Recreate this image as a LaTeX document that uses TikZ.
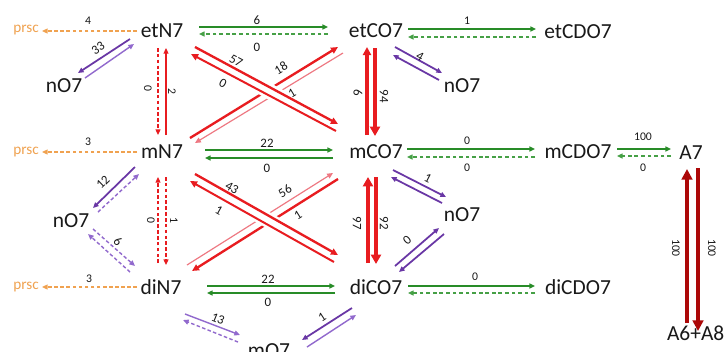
\documentclass[tikz,border=0pt]{standalone}
\usepackage{fontspec}
\setmainfont{Carlito}
\usetikzlibrary{arrows.meta}
\definecolor{txt}{RGB}{25,25,25}
\definecolor{cor}{RGB}{240,162,80}
\definecolor{cgr}{RGB}{40,140,40}
\definecolor{cgl}{RGB}{70,160,70}
\definecolor{cred}{RGB}{232,28,32}
\definecolor{cpk}{RGB}{238,120,130}
\definecolor{cpd}{RGB}{105,55,165}
\definecolor{cpl}{RGB}{145,105,205}
\definecolor{cdr}{RGB}{172,8,8}
\begin{document}
\begin{tikzpicture}[x=0.03cm,y=-0.03cm,
  nm/.style={text=txt,inner sep=0pt,font=\fontsize{18.3}{20}\selectfont},
  pr/.style={text=cor,inner sep=0pt,font=\fontsize{13}{14}\selectfont},
  lb/.style={text=txt,inner sep=0pt,font=\fontsize{11}{12}\selectfont},
  lbs/.style={text=txt,inner sep=0pt,font=\fontsize{10}{11}\selectfont},
  tipS/.style={-{Triangle[length=4.8pt,width=4.2pt]}},
  orA/.style={draw=cor,line width=1.1pt,dash pattern=on 3pt off 2.2pt,tipS},
  gS/.style={draw=cgr,line width=1.2pt,tipS},
  gSb/.style={draw=cgr,line width=1.5pt,tipS},
  gD/.style={draw=cgl,line width=1.2pt,dash pattern=on 3.2pt off 2.4pt,tipS},
  rD/.style={draw=cred,line width=1.1pt,dash pattern=on 3pt off 2pt,tipS},
  rT/.style={draw=cred,line width=1pt,tipS},
  rA/.style={draw=cred,line width=2pt,-{Triangle[length=6pt,width=5.5pt]}},
  pk/.style={draw=cpk,line width=1pt,-{Triangle[length=5pt,width=4.5pt]}},
  rB/.style={draw=cred,line width=2.6pt,-{Triangle[length=7pt,width=7pt]}},
  rBB/.style={draw=cred,line width=3.6pt,-{Triangle[length=8pt,width=8.5pt]}},
  drB/.style={draw=cdr,line width=3.8pt,-{Triangle[length=9pt,width=9pt]}},
  pS/.style={draw=cpd,line width=1.5pt,tipS},
  pL/.style={draw=cpl,line width=1.2pt,tipS},
  pD/.style={draw=cpl,line width=1.2pt,dash pattern=on 3pt off 2pt,tipS},
  gap/.style={draw=white,line width=13pt}
]
\useasboundingbox (0,0) rectangle (725,351);
\clip (0,0) rectangle (725,351);
\fill[white] (0,0) rectangle (725,351);

% ---------- nodes ----------
\node[pr] (prsc1) at (26,30) {prsc};
\node[pr] (prsc2) at (26,152) {prsc};
\node[pr] (prsc3) at (26,287) {prsc};
\node[nm] (etN7) at (162,31) {etN7};
\node[nm] (etCO7) at (376,31) {etCO7};
\node[nm] (etCDO7) at (578,32) {etCDO7};
\node[nm] (nO7a) at (64,86) {nO7};
\node[nm] (nO7b) at (462,86) {nO7};
\node[nm] (mN7) at (162,152) {mN7};
\node[nm] (mCO7) at (376,152) {mCO7};
\node[nm] (mCDO7) at (578,152) {mCDO7};
\node[nm] (A7) at (691,153) {A7};
\node[nm] (nO7c) at (71,221) {nO7};
\node[nm] (nO7d) at (462,215) {nO7};
\node[nm] (diN7) at (161,287) {diN7};
\node[nm] (diCO7) at (376,287) {diCO7};
\node[nm] (diCDO7) at (578,287) {diCDO7};
\node[nm,anchor=base east] (A6A8) at (724.5,340) {A6+A8};
\node[nm,anchor=base] (mO7) at (269,357) {mO7};

% ---------- coordinates ----------
\coordinate (o1s) at (137,31); \coordinate (o1e) at (42,31);
\coordinate (o2s) at (137,152); \coordinate (o2e) at (42,152);
\coordinate (o3s) at (137,287); \coordinate (o3e) at (42,287);
% green
\coordinate (g1s) at (199,27); \coordinate (g1e) at (328,27);
\coordinate (g2s) at (328,34); \coordinate (g2e) at (199,34);
\coordinate (g3s) at (408,29); \coordinate (g3e) at (536,29);
\coordinate (g4s) at (536,37); \coordinate (g4e) at (408,37);
\coordinate (g5s) at (205,150); \coordinate (g5e) at (333,150);
\coordinate (g6s) at (333,158); \coordinate (g6e) at (205,158);
\coordinate (g7s) at (407,149); \coordinate (g7e) at (535,149);
\coordinate (g8s) at (535,157); \coordinate (g8e) at (407,157);
\coordinate (g9s) at (617,149); \coordinate (g9e) at (671,149);
\coordinate (g10s) at (671,156); \coordinate (g10e) at (617,156);
\coordinate (g11s) at (207,286); \coordinate (g11e) at (335,286);
\coordinate (g12s) at (335,293); \coordinate (g12e) at (207,293);
\coordinate (g13s) at (408,286); \coordinate (g13e) at (535,286);
\coordinate (g14s) at (535,293); \coordinate (g14e) at (408,293);
% red verticals
\coordinate (r1s) at (158,48); \coordinate (r1e) at (158,135);
\coordinate (r2s) at (166,135); \coordinate (r2e) at (166,48);
\coordinate (r3s) at (158,263); \coordinate (r3e) at (158,177);
\coordinate (r4s) at (166,177); \coordinate (r4e) at (166,265);
\coordinate (r5s) at (367,135); \coordinate (r5e) at (367,47);
\coordinate (r6s) at (375,48); \coordinate (r6e) at (375,136);
\coordinate (r7s) at (368,263); \coordinate (r7e) at (368,177);
\coordinate (r8s) at (376,177); \coordinate (r8e) at (376,264);
\coordinate (r9s) at (687,323); \coordinate (r9e) at (687,169);
\coordinate (r10s) at (698,168); \coordinate (r10e) at (698,331);
% red diagonals
\coordinate (a1s) at (195,47); \coordinate (a1e) at (338,124);
\coordinate (a2s) at (336,131); \coordinate (a2e) at (191,54);
\coordinate (ag1) at (245,78.2); \coordinate (ag2) at (293,103.9);
\coordinate (b1s) at (190,138); \coordinate (b1e) at (338,47);
\coordinate (b2s) at (343,53); \coordinate (b2e) at (195,143);
\coordinate (c1s) at (195,174); \coordinate (c1e) at (338,255);
\coordinate (c2s) at (334,262); \coordinate (c2e) at (190,181);
\coordinate (cg1) at (245,207.1); \coordinate (cg2) at (290,232.5);
\coordinate (d1s) at (187,265); \coordinate (d1e) at (333,173);
\coordinate (d2s) at (338,179); \coordinate (d2e) at (192,271);
% purple
\coordinate (p1s) at (130,39); \coordinate (p1e) at (78,73);
\coordinate (p2s) at (85,78); \coordinate (p2e) at (134,44);
\coordinate (p3s) at (395,47); \coordinate (p3e) at (442,73);
\coordinate (p4s) at (439,80); \coordinate (p4e) at (393,55);
\coordinate (p5s) at (135,167); \coordinate (p5e) at (93,208);
\coordinate (p6s) at (98,212); \coordinate (p6e) at (139,174);
\coordinate (p7s) at (93,229); \coordinate (p7e) at (135,266);
\coordinate (p8s) at (130,272); \coordinate (p8e) at (88,234);
\coordinate (p9s) at (185,314); \coordinate (p9e) at (240,335);
\coordinate (p10s) at (238,342); \coordinate (p10e) at (183,320);
\coordinate (p11s) at (352,308); \coordinate (p11e) at (302,340);
\coordinate (p12s) at (307,347); \coordinate (p12e) at (356,315);
\coordinate (p13s) at (393,170); \coordinate (p13e) at (446,197);
\coordinate (p14s) at (442,203); \coordinate (p14e) at (391,177);
\coordinate (p15s) at (395,266); \coordinate (p15e) at (439,228);
\coordinate (p16s) at (444,234); \coordinate (p16e) at (399,272);

% ---------- connectors ----------
\draw[orA] (o1s) -- (o1e);
\draw[orA] (o2s) -- (o2e);
\draw[orA] (o3s) -- (o3e);

\draw[gS] (g1s) -- (g1e);
\draw[gD] (g2s) -- (g2e);
\draw[gS] (g3s) -- (g3e);
\draw[gD] (g4s) -- (g4e);
\draw[gSb] (g5s) -- (g5e);
\draw[gS] (g6s) -- (g6e);
\draw[gSb] (g7s) -- (g7e);
\draw[gD] (g8s) -- (g8e);
\draw[gSb] (g9s) -- (g9e);
\draw[gD] (g10s) -- (g10e);
\draw[gS] (g11s) -- (g11e);
\draw[gS] (g12s) -- (g12e);
\draw[gSb] (g13s) -- (g13e);
\draw[gD] (g14s) -- (g14e);

\draw[rD] (r1s) -- (r1e);
\draw[rT] (r2s) -- (r2e);
\draw[rD] (r3s) -- (r3e);
\draw[rD] (r4s) -- (r4e);
\draw[rB] (r5s) -- (r5e);
\draw[rBB] (r6s) -- (r6e);
\draw[rBB] (r7s) -- (r7e);
\draw[rBB] (r8s) -- (r8e);
\draw[drB] (r9s) -- (r9e);
\draw[drB] (r10s) -- (r10e);

% upper X
\draw[rA] (b1s) -- (b1e);
\draw[pk] (b2s) -- (b2e);
\draw[gap] (ag1) -- (ag2);
\draw[rA] (a1s) -- (a1e);
\draw[rA,line width=1.7pt] (a2s) -- (a2e);
% lower X
\draw[pk] (d1s) -- (d1e);
\draw[rA] (d2s) -- (d2e);
\draw[gap] (cg1) -- (cg2);
\draw[rA] (c1s) -- (c1e);
\draw[rA,line width=1.7pt] (c2s) -- (c2e);

\draw[pS] (p1s) -- (p1e);
\draw[pL] (p2s) -- (p2e);
\draw[pS] (p3s) -- (p3e);
\draw[pS] (p4s) -- (p4e);
\draw[pS] (p5s) -- (p5e);
\draw[pD] (p6s) -- (p6e);
\draw[pD] (p7s) -- (p7e);
\draw[pD] (p8s) -- (p8e);
\draw[pL] (p9s) -- (p9e);
\draw[pD] (p10s) -- (p10e);
\draw[pS] (p11s) -- (p11e);
\draw[pL] (p12s) -- (p12e);
\draw[pS] (p13s) -- (p13e);
\draw[pS] (p14s) -- (p14e);
\draw[pS] (p15s) -- (p15e);
\draw[pS] (p16s) -- (p16e);

% ---------- labels ----------
\node[lbs] (l1) at (88,21) {4};
\node[lbs] (l2) at (88,142) {3};
\node[lbs] (l3) at (89,279) {3};
\node[lb] (l4) at (257,20) {6};
\node[lb] (l5) at (257,47) {0};
\node[lbs] (l6) at (467,21) {1};
\node[lb] (l7) at (267,143) {22};
\node[lb] (l8) at (267,168) {0};
\node[lbs] (l9) at (467,141) {0};
\node[lbs] (l10) at (467,168) {0};
\node[lbs] (l11) at (643,137) {100};
\node[lbs] (l12) at (643,168) {0};
\node[lb] (l13) at (268,279) {22};
\node[lb] (l14) at (268,302) {0};
\node[lbs] (l15) at (475,277) {0};
\node[lbs,rotate=-90] (l16) at (148,88) {0};
\node[lbs,rotate=-90] (l17) at (172,91) {2};
\node[lbs,rotate=-90] (l18) at (151,220) {0};
\node[lbs,rotate=-90] (l19) at (174,220) {1};
\node[lb,rotate=-90] (l20) at (358,93) {6};
\node[lb,rotate=-90] (l21) at (384,96) {94};
\node[lb,rotate=-90] (l22) at (357,223) {97};
\node[lb,rotate=-90] (l23) at (384,223) {92};
\node[lbs,rotate=-90] (l24) at (676,248) {100};
\node[lbs,rotate=-90] (l25) at (712,248) {100};
\node[lb,rotate=-28] (l26) at (236,61) {57};
\node[lb,rotate=-28] (l27) at (223,83) {0};
\node[lb,rotate=31] (l28) at (281,68) {18};
\node[lb,rotate=31] (l29) at (292,93) {1};
\node[lb,rotate=-29] (l30) at (232,188) {43};
\node[lb,rotate=-29] (l31) at (219,210) {1};
\node[lb,rotate=32] (l32) at (285,191) {56};
\node[lb,rotate=32] (l33) at (298,215) {1};
\node[lb,rotate=35] (l34) at (98,48) {33};
\node[lb,rotate=-29] (l35) at (420,56) {4};
\node[lb,rotate=44] (l36) at (103,182) {12};
\node[lb,rotate=-42] (l37) at (118,241) {6};
\node[lb,rotate=-22] (l38) at (218,319) {13};
\node[lb,rotate=33] (l39) at (322,317) {1};
\node[lb,rotate=-27] (l40) at (428,178) {1};
\node[lb,rotate=41] (l41) at (407,240) {0};
\end{tikzpicture}
\end{document}
